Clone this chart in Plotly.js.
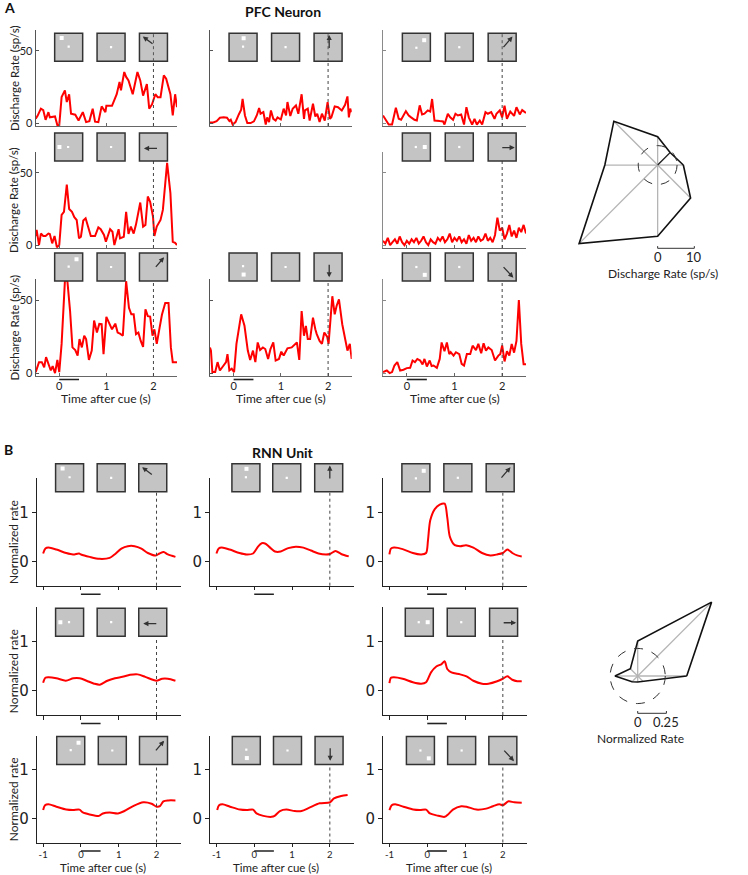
<!DOCTYPE html>
<html>
<head>
<meta charset="utf-8">
<script src="https://cdn.plot.ly/plotly-3.0.1.min.js"></script>
<style>html,body{margin:0;padding:0;background:#fff;}</style>
</head>
<body>
<div id="chart" style="width:748px;height:875px"></div>
<script>
const W = 748, H = 875;

// ---------- data: PFC neuron firing rate (sp/s) vs time after cue (s) ----------
const pfcT_ul = [-0.5,-0.46,-0.39,-0.34,-0.29,-0.23,-0.2,-0.09,-0.04,0.0,0.05,0.12,0.16,0.21,0.25,0.34,0.41,0.5,0.57,0.64,0.71,0.76,0.83,0.9,0.98,1.0,1.12,1.22,1.28,1.31,1.38,1.42,1.47,1.56,1.66,1.72,1.78,1.86,1.91,1.97,2.04,2.09,2.15,2.22,2.27,2.36,2.41,2.46,2.5];
const pfcR_ul = [3,5,10,9,2.3,7.6,4,4.6,-1.5,-1.5,18,22.7,14.6,20,6.5,5.8,1.8,7.6,0.7,1.4,10,1,0.7,11.6,7.6,12,12,20,28.5,22.7,35.4,32,29.6,20,35.4,29.6,19,27,10,13,20,18,18,33,30.8,20,5.3,20,11];

const pfcT_u = [-0.5,-0.43,-0.36,-0.29,-0.21,-0.14,-0.09,-0.06,-0.02,0.04,0.11,0.16,0.19,0.24,0.29,0.36,0.43,0.49,0.54,0.57,0.63,0.68,0.71,0.75,0.79,0.84,0.89,0.93,1.0,1.06,1.11,1.14,1.2,1.25,1.32,1.37,1.44,1.49,1.51,1.57,1.61,1.68,1.73,1.77,1.82,1.87,1.93,1.99,2.04,2.07,2.14,2.21,2.29,2.36,2.41,2.44,2.47,2.5];
const pfcR_u = [0.5,0.5,1.4,3.7,4,3.7,1.4,2.3,-1,0.7,6,9.3,16.7,5.3,0,0,1.2,5.3,10.4,6.5,7.6,-1,4,0.7,8.8,3,1.8,4,2.5,10,5.3,14.6,4.9,10,12.3,6.5,20,3,8.8,10,1.8,13.4,4.6,6.5,0.7,6.5,1.8,14.6,3,4,11.6,11,8.8,12.7,18.5,4,10,7.6];

const pfcT_ur = [-0.5,-0.43,-0.38,-0.31,-0.23,-0.17,-0.12,-0.02,0.04,0.09,0.16,0.21,0.27,0.32,0.37,0.44,0.49,0.53,0.58,0.69,0.76,0.79,0.86,0.91,0.97,1.02,1.07,1.14,1.2,1.25,1.3,1.37,1.42,1.47,1.53,1.58,1.65,1.7,1.77,1.84,1.88,1.95,2.0,2.05,2.1,2.17,2.25,2.3,2.37,2.42,2.5];
const pfcR_ur = [5.3,1.8,-1,-1,10.6,3,2.3,8.3,5.3,4,2.3,1.8,12.3,6,6.5,8.8,8,16.7,1.8,1.4,1.2,-1,6.5,4,2.3,6.5,5.3,6,-1,11,4,-1,3,-1,1.8,-1,7.6,6.5,7.6,3,6.5,8.8,4,12,3,8,5,11,6,9,7];

const pfcT_l = [-0.5,-0.48,-0.43,-0.39,-0.34,-0.29,-0.23,-0.2,-0.15,-0.1,-0.05,0.0,0.05,0.1,0.16,0.21,0.27,0.32,0.37,0.42,0.46,0.51,0.56,0.61,0.67,0.76,0.83,0.88,0.95,0.99,1.08,1.13,1.17,1.26,1.29,1.37,1.42,1.47,1.52,1.58,1.63,1.72,1.78,1.83,1.88,1.93,1.99,2.02,2.07,2.15,2.2,2.29,2.36,2.41,2.46,2.5];
const pfcR_l = [6.3,10.5,0,8,6.3,6.3,8,7.7,1.2,6.3,-1.5,0,21,23,42,25,23,19.3,17.4,4.7,5.8,17,18.6,12.8,6.3,6.3,12.3,11,7,2.3,11,9.3,0,11,4.7,5.8,23,7.7,12.8,8,14.4,29.5,12.8,14,33.7,30,19.8,6.3,12.8,17.4,24.4,57,36,2.3,1.6,0];

const pfcT_r = [-0.5,-0.45,-0.4,-0.35,-0.3,-0.25,-0.2,-0.15,-0.1,-0.05,0,0.05,0.1,0.15,0.2,0.25,0.3,0.35,0.4,0.45,0.5,0.55,0.6,0.65,0.7,0.75,0.8,0.85,0.9,0.95,1.0,1.05,1.1,1.15,1.2,1.25,1.3,1.35,1.4,1.45,1.5,1.55,1.6,1.65,1.7,1.75,1.8,1.85,1.9,1.95,2.0,2.05,2.1,2.15,2.2,2.25,2.3,2.35,2.4,2.45,2.5];
const pfcR_r = [3,1,5,0,2,4,1,6,2,0,3,1,4,2,5,1,3,6,2,0,4,2,1,5,3,6,2,4,8,2,5,3,6,2,4,1,7,3,5,2,6,3,4,8,3,5,2,7,19,10,12,4,8,14,6,10,5,12,9,14,8];

const pfcT_dl = [-0.5,-0.43,-0.37,-0.32,-0.28,-0.23,-0.18,-0.14,-0.09,-0.04,0,0.05,0.12,0.17,0.23,0.28,0.34,0.39,0.43,0.48,0.53,0.57,0.63,0.69,0.74,0.8,0.85,0.9,0.94,1.0,1.07,1.12,1.19,1.24,1.29,1.35,1.42,1.48,1.53,1.58,1.63,1.68,1.73,1.78,1.83,1.88,1.93,1.98,2.02,2.07,2.13,2.18,2.25,2.32,2.37,2.41,2.5];
const pfcR_dl = [0.7,7.5,7.5,4,10.9,6.3,1.8,4.8,0,9,0.7,20,63,64,42.5,17.6,15.8,12,23.3,17.6,25.6,23.3,9,15.4,36,27.8,33.7,33.5,13,38.5,33.5,30,33.9,27.8,27,25.6,63,44.8,40.3,40.3,26.7,27.8,22,18,43.7,39,38.7,25.6,30,20,31,40,48,48,17.6,7.5,7.5];

const pfcT_d = [-0.5,-0.48,-0.45,-0.39,-0.34,-0.29,-0.24,-0.16,-0.13,-0.09,-0.04,0.01,0.06,0.16,0.23,0.3,0.35,0.41,0.46,0.51,0.56,0.62,0.67,0.73,0.78,0.84,0.89,0.96,1.01,1.06,1.14,1.23,1.34,1.39,1.44,1.49,1.53,1.57,1.62,1.68,1.73,1.76,1.82,1.87,1.92,1.98,2.01,2.09,2.14,2.18,2.23,2.3,2.37,2.41,2.46,2.5];
const pfcR_d = [17.6,15.4,0.7,0.7,7.5,1.8,4,7.5,13,1.8,3,0.7,20,40.3,32.4,15.4,9,15.4,7.5,21,15.8,17.6,16.5,9.7,16.5,21,8.6,9.7,14.7,12,17,17.6,21,9,42.5,25.6,32.4,23.3,23.3,38,30,26.7,22,20,27.8,25,20,52.7,40.3,46,50.5,33.5,22,15.4,20,9.7];

const pfcT_dr = [-0.5,-0.42,-0.36,-0.31,-0.26,-0.2,-0.14,-0.07,0,0.07,0.12,0.17,0.22,0.28,0.33,0.37,0.42,0.48,0.52,0.56,0.63,0.69,0.73,0.79,0.84,0.89,0.92,0.98,1.03,1.1,1.15,1.2,1.26,1.33,1.38,1.45,1.5,1.56,1.61,1.66,1.71,1.78,1.85,1.92,1.96,2.0,2.05,2.1,2.15,2.2,2.25,2.3,2.35,2.4,2.45,2.5];
const pfcR_dr = [0.7,1.8,0,0.7,5.2,7.5,1.8,2.3,3.4,3.6,8.6,7.5,9.7,8.6,5.9,9.7,4.5,8.6,4.8,5.2,3.6,9.7,21,15,21,13,14.3,12,14.3,13,6.3,5.2,13,13,18.8,15.8,20,13.6,20.4,15.4,17.6,15.8,8.6,12,13,19,8,15,12,20,14,22,50,20,6,6];

// ---------- data: RNN unit normalized rate vs time after cue (s) ----------
const rnnT_ul = [-1.0,-0.94,-0.86,-0.65,-0.39,-0.21,-0.05,0.0,0.23,0.49,0.76,0.89,1.07,1.24,1.42,1.6,1.77,1.98,2.08,2.19,2.3,2.5];
const rnnR_ul = [0.16,0.26,0.28,0.24,0.17,0.14,0.16,0.14,0.09,0.05,0.07,0.14,0.26,0.31,0.31,0.26,0.17,0.12,0.16,0.19,0.14,0.09];

const rnnT_u = [-1.0,-0.94,-0.86,-0.65,-0.39,-0.2,-0.03,0.1,0.2,0.3,0.42,0.55,0.7,0.9,1.1,1.3,1.5,1.7,1.9,2.0,2.15,2.3,2.5];
const rnnR_u = [0.16,0.26,0.28,0.24,0.17,0.14,0.16,0.3,0.37,0.36,0.28,0.2,0.2,0.27,0.3,0.28,0.22,0.16,0.14,0.15,0.21,0.15,0.1];

const rnnT_ur = [-1.0,-0.96,-0.88,-0.65,-0.38,-0.16,-0.03,0.02,0.08,0.2,0.33,0.46,0.53,0.6,0.73,0.87,1.03,1.22,1.45,1.67,1.85,2.0,2.12,2.25,2.38,2.5];
const rnnR_ur = [0.14,0.26,0.28,0.25,0.17,0.14,0.17,0.43,0.84,1.07,1.16,1.18,0.9,0.5,0.33,0.31,0.33,0.28,0.17,0.12,0.14,0.17,0.24,0.17,0.12,0.1];

const rnnT_l = [-1.0,-0.94,-0.86,-0.65,-0.4,-0.2,-0.03,0.15,0.35,0.5,0.7,0.9,1.1,1.3,1.5,1.7,1.9,2.0,2.15,2.3,2.5];
const rnnR_l = [0.16,0.26,0.27,0.25,0.2,0.25,0.25,0.2,0.14,0.12,0.2,0.25,0.28,0.32,0.33,0.28,0.22,0.2,0.24,0.24,0.2];

const rnnT_r = [-1.0,-0.96,-0.88,-0.65,-0.38,-0.16,-0.03,0.1,0.24,0.38,0.46,0.53,0.64,0.87,1.04,1.22,1.45,1.62,1.85,2.0,2.12,2.25,2.38,2.5];
const rnnR_r = [0.15,0.26,0.27,0.24,0.17,0.14,0.17,0.37,0.49,0.54,0.6,0.44,0.37,0.33,0.29,0.2,0.14,0.14,0.19,0.24,0.29,0.22,0.19,0.19];

const rnnT_dl = [-1.0,-0.95,-0.86,-0.65,-0.39,-0.21,-0.04,0.05,0.23,0.48,0.58,0.76,0.98,1.15,1.38,1.65,1.87,2.0,2.09,2.18,2.31,2.5];
const rnnR_dl = [0.17,0.27,0.29,0.24,0.18,0.17,0.18,0.12,0.08,0.05,0.1,0.12,0.1,0.15,0.25,0.33,0.3,0.24,0.25,0.35,0.37,0.37];

const rnnT_d = [-0.98,-0.93,-0.84,-0.64,-0.38,-0.2,-0.03,0.06,0.24,0.46,0.54,0.68,0.85,1.07,1.25,1.46,1.73,2.0,2.11,2.3,2.47];
const rnnR_d = [0.17,0.27,0.29,0.24,0.18,0.17,0.18,0.1,0.05,0.03,0.05,0.15,0.18,0.15,0.15,0.22,0.31,0.33,0.41,0.46,0.48];

const rnnT_dr = [-1.0,-0.94,-0.85,-0.63,-0.37,-0.19,-0.03,0.07,0.25,0.46,0.55,0.68,0.9,1.04,1.3,1.56,1.74,1.91,2.0,2.15,2.3,2.5];
const rnnR_dr = [0.17,0.27,0.29,0.24,0.18,0.17,0.18,0.1,0.06,0.03,0.08,0.18,0.25,0.24,0.18,0.2,0.25,0.29,0.27,0.35,0.33,0.32];

// ---------- data: tuning (mean rate per saccade direction) ----------
const DIRS_DEG = [0, 45, 90, 135, 180, 225, 270, 315];
const PFC_TUNING = [7.0, 4.8, 7.7, 16.9, 14.4, 30.3, 19.4, 12.7];
const PFC_BASELINE = 5.3;
const RNN_TUNING = [0.427, 0.91, 0.305, 0.09, 0.198, 0.07, 0.052, 0.066];
const RNN_BASELINE = 0.24;

// ---------- layout geometry (px) ----------
const ICON = 28;
const A_COLS = [[35.7, 177], [210, 351.7], [383, 526]];
const A_ROWS = [[30, 126], [152, 248], [279, 376]];
const A_ICON_Y = [47.2, 147, 267];
const B_COLS = [[36.7, 181.1], [210, 354.4], [383, 527.4]];
const B_ROWS = [[478.3, 585.7], [607.3, 715], [736, 842.5]];
const B_ICON_Y = [477.8, 622.2, 750.5];

// icon glyphs per grid position: cue square, fixation dot, arrow [tailx, taily, headx, heady]
const GLYPHS = {
  '0,0': {cue: [0.25, 0.17], fix: [0.5, 0.48], arrow: [0.52, 0.42, 0.12, 0.12]},
  '0,1': {cue: [0.52, 0.18], fix: [0.5, 0.48], arrow: [0.54, 0.58, 0.54, 0.06]},
  '0,2': {cue: [0.78, 0.25], fix: [0.5, 0.52], arrow: [0.5, 0.55, 0.87, 0.12]},
  '1,0': {cue: [0.17, 0.5], fix: [0.48, 0.5], arrow: [0.68, 0.55, 0.16, 0.55]},
  '1,2': {cue: [0.8, 0.5], fix: [0.48, 0.5], arrow: [0.45, 0.52, 0.95, 0.52]},
  '2,0': {cue: [0.78, 0.22], fix: [0.5, 0.49], arrow: [0.54, 0.55, 0.88, 0.15]},
  '2,1': {cue: [0.52, 0.77], fix: [0.5, 0.47], arrow: [0.54, 0.37, 0.54, 0.87]},
  '2,2': {cue: [0.8, 0.78], fix: [0.5, 0.5], arrow: [0.5, 0.45, 0.9, 0.88]},
};

const PFC_PANELS = [
  {r: 0, c: 0, t: pfcT_ul, v: pfcR_ul}, {r: 0, c: 1, t: pfcT_u, v: pfcR_u}, {r: 0, c: 2, t: pfcT_ur, v: pfcR_ur},
  {r: 1, c: 0, t: pfcT_l, v: pfcR_l}, {r: 1, c: 2, t: pfcT_r, v: pfcR_r},
  {r: 2, c: 0, t: pfcT_dl, v: pfcR_dl}, {r: 2, c: 1, t: pfcT_d, v: pfcR_d}, {r: 2, c: 2, t: pfcT_dr, v: pfcR_dr},
];
const RNN_PANELS = [
  {r: 0, c: 0, t: rnnT_ul, v: rnnR_ul, icons: [-0.3, 0.8, 1.9]},
  {r: 0, c: 1, t: rnnT_u, v: rnnR_u, icons: [-0.22, 0.86, 1.97]},
  {r: 0, c: 2, t: rnnT_ur, v: rnnR_ur, icons: [-0.3, 0.81, 1.93]},
  {r: 1, c: 0, t: rnnT_l, v: rnnR_l, icons: [-0.3, 0.8, 1.9]},
  {r: 1, c: 2, t: rnnT_r, v: rnnR_r, icons: [-0.21, 0.9, 2.02]},
  {r: 2, c: 0, t: rnnT_dl, v: rnnR_dl, icons: [-0.27, 0.83, 1.92]},
  {r: 2, c: 1, t: rnnT_d, v: rnnR_d, icons: [-0.21, 0.88, 1.98]},
  {r: 2, c: 2, t: rnnT_dr, v: rnnR_dr, icons: [-0.18, 0.91, 2.0]},
];

const FONT = 'Lato, "Open Sans", sans-serif';
const traces = [];
const shapes = [];
const annotations = [];
const layout = {
  width: W, height: H,
  margin: {l: 0, r: 0, t: 0, b: 0},
  showlegend: false,
  paper_bgcolor: '#fff',
  plot_bgcolor: 'rgba(0,0,0,0)',
  font: {family: FONT, color: '#222', size: 11},
  shapes: shapes,
  annotations: annotations,
};

const py = y => 1 - y / H;
const axKeys = n => n === 1 ? ['x', 'y', 'xaxis', 'yaxis'] : ['x' + n, 'y' + n, 'xaxis' + n, 'yaxis' + n];

function text(s, x, y, opts) {
  annotations.push(Object.assign({
    text: s, xref: 'paper', yref: 'paper', x: x / W, y: py(y),
    showarrow: false, xanchor: 'center', yanchor: 'middle',
    font: {family: FONT, size: 12, color: '#222'},
  }, opts || {}));
}

function drawIcons(xa, centers, iconY, glyph, lineTop) {
  const yc = py(iconY);
  const half = ICON / 2;
  // dotted line at saccade go time
  shapes.push({
    type: 'line', xref: xa, yref: 'paper', x0: 2, x1: 2,
    y0: lineTop.bottom, y1: lineTop.top,
    line: {color: '#444', width: 1, dash: 'dot'},
  });
  centers.forEach(cx => {
    shapes.push({
      type: 'rect', xref: xa, yref: 'paper',
      xsizemode: 'pixel', ysizemode: 'pixel', xanchor: cx, yanchor: yc,
      x0: -half, x1: half, y0: -half, y1: half,
      fillcolor: '#c4c4c4', line: {color: '#333', width: 1.5},
    });
  });
  if (lineTop.through) {
    shapes.push({
      type: 'line', xref: xa, yref: 'paper', x0: 2, x1: 2,
      y0: py(iconY + half), y1: py(iconY - half),
      line: {color: '#555', width: 1, dash: 'dot'},
    });
  }
  const dot = (cx, f, size) => {
    const dx = (f[0] - 0.5) * ICON, dy = -(f[1] - 0.5) * ICON;
    shapes.push({
      type: 'rect', xref: xa, yref: 'paper',
      xsizemode: 'pixel', ysizemode: 'pixel', xanchor: cx, yanchor: yc,
      x0: dx - size / 2, x1: dx + size / 2, y0: dy - size / 2, y1: dy + size / 2,
      fillcolor: '#fff', line: {width: 0},
    });
  };
  dot(centers[0], glyph.cue, 4);
  dot(centers[0], glyph.fix, 2.2);
  dot(centers[1], [0.5, 0.5], 2.2);
  const a = glyph.arrow;
  annotations.push({
    text: '', xref: xa, yref: 'paper', x: centers[2], y: yc,
    xshift: (a[2] - 0.5) * ICON, yshift: -(a[3] - 0.5) * ICON,
    axref: 'pixel', ayref: 'pixel',
    ax: (a[0] - a[2]) * ICON, ay: (a[1] - a[3]) * ICON,
    showarrow: true, arrowhead: 2, arrowsize: 0.8, arrowwidth: 1.3,
    arrowcolor: '#333', standoff: 0,
  });
}

let n = 1;

// ---------- panel A: PFC neuron ----------
PFC_PANELS.forEach(p => {
  const [xa, ya, xk, yk] = axKeys(n++);
  const cx = A_COLS[p.c], ry = A_ROWS[p.r];
  const axColor = p.c === 2 ? '#8a8a8a' : '#555';
  layout[xk] = {
    domain: [cx[0] / W, cx[1] / W], anchor: ya, range: [-0.5, 2.5],
    showline: true, linecolor: '#666', linewidth: 1,
    ticks: 'inside', ticklen: 3, tickcolor: '#666', tickvals: [0, 1, 2],
    showticklabels: p.r === 2, tickfont: {size: 11, family: FONT, color: '#222'},
    showgrid: false, zeroline: false, fixedrange: true,
  };
  layout[yk] = {
    domain: [py(ry[1]), py(ry[0])], anchor: xa, range: [-2, 64.5],
    showline: true, linecolor: axColor, linewidth: 1,
    ticks: 'inside', ticklen: 3, tickcolor: axColor, tickvals: [0, 50],
    showticklabels: p.c === 0, tickfont: {size: 11, family: FONT, color: '#222'},
    showgrid: false, zeroline: false, fixedrange: true,
  };
  traces.push({
    x: p.t, y: p.v, xaxis: xa, yaxis: ya, type: 'scatter', mode: 'lines',
    line: {color: '#ff0000', width: 2}, hoverinfo: 'skip',
  });
  const iconY = A_ICON_Y[p.r];
  drawIcons(xa, [0.2, 1.1, 2.0], iconY, GLYPHS[p.r + ',' + p.c], {
    bottom: py(ry[1]), top: py(iconY + ICON / 2), through: p.r === 0,
  });
  if (p.r === 2) {
    shapes.push({type: 'line', xref: xa, yref: 'paper', x0: 0, x1: 0.42,
      y0: py(ry[1] + 3.5), y1: py(ry[1] + 3.5), line: {color: '#222', width: 1.6}});
    text('Time after cue (s)', (cx[0] + cx[1]) / 2, 398, {font: {family: FONT, size: 12, color: '#222'}});
  }
  if (p.c === 0) {
    text('Discharge Rate (sp/s)', 14, (ry[0] + ry[1]) / 2, {textangle: -90, font: {family: FONT, size: 11.5, color: '#222'}});
  }
});

// ---------- panel B: RNN unit ----------
RNN_PANELS.forEach(p => {
  const [xa, ya, xk, yk] = axKeys(n++);
  const cx = B_COLS[p.c], ry = B_ROWS[p.r];
  layout[xk] = {
    domain: [cx[0] / W, cx[1] / W], anchor: ya, range: [-1.17, 2.65],
    showline: true, linecolor: '#222', linewidth: 1,
    ticks: 'outside', ticklen: 3.5, tickcolor: '#222',
    tickvals: [-1, 0, 1, 2], ticktext: ['-1', '0', '1', '2'],
    showticklabels: p.r === 2, tickfont: {size: 9.5, family: FONT, color: '#222'},
    ticklabelstandoff: 0,
    showgrid: false, zeroline: false, fixedrange: true,
  };
  layout[yk] = {
    domain: [py(ry[1]), py(ry[0])], anchor: xa, range: [-0.5, 1.7],
    showline: true, linecolor: '#222', linewidth: 1,
    ticks: 'outside', ticklen: 4, tickcolor: '#222', tickvals: [0, 1],
    tickfont: {size: 15, family: 'DejaVu Sans, sans-serif', color: '#222'},
    showgrid: false, zeroline: false, fixedrange: true,
  };
  traces.push({
    x: p.t, y: p.v, xaxis: xa, yaxis: ya, type: 'scatter', mode: 'lines',
    line: {color: '#ff0000', width: 2, shape: 'spline', smoothing: 0.8}, hoverinfo: 'skip',
  });
  const iconY = B_ICON_Y[p.r];
  drawIcons(xa, p.icons, iconY, GLYPHS[p.r + ',' + p.c], {
    bottom: py(ry[1]), top: py(iconY + ICON / 2), through: false,
  });
  shapes.push({type: 'line', xref: xa, yref: 'paper', x0: 0, x1: 0.52,
    y0: py(ry[1] + 8.5), y1: py(ry[1] + 8.5), line: {color: '#222', width: 1.6}});
  if (p.r === 2) {
    text('Time after cue (s)', (cx[0] + cx[1]) / 2 - 6, 875,
      {yanchor: 'bottom', borderpad: 0, font: {family: FONT, size: 11.5, color: '#222'}});
  }
  if (p.c === 0) {
    text('Normalized rate', 13, (ry[0] + ry[1]) / 2 + 10, {textangle: -90, font: {family: FONT, size: 12, color: '#222'}});
  }
});

// ---------- tuning polygons ----------
function polar(radii, baseline, ranges, boxPx, opts) {
  const [xa, ya, xk, yk] = axKeys(n++);
  layout[xk] = {domain: [boxPx[0] / W, boxPx[1] / W], anchor: ya, range: ranges[0], visible: false, fixedrange: true};
  layout[yk] = {domain: [py(boxPx[3]), py(boxPx[2])], anchor: xa, range: ranges[1], visible: false, fixedrange: true};
  const vx = radii.map((r, i) => r * Math.cos(DIRS_DEG[i] * Math.PI / 180));
  const vy = radii.map((r, i) => r * Math.sin(DIRS_DEG[i] * Math.PI / 180));
  const sx = [], sy = [];
  vx.forEach((x, i) => { sx.push(0, x, null); sy.push(0, vy[i], null); });
  traces.push({x: sx, y: sy, xaxis: xa, yaxis: ya, mode: 'lines', type: 'scatter',
    line: {color: '#b4b4b4', width: 1.3}, hoverinfo: 'skip'});
  if (opts.darkSpoke !== undefined) {
    const i = opts.darkSpoke;
    traces.push({x: [0, vx[i]], y: [0, vy[i]], xaxis: xa, yaxis: ya, mode: 'lines', type: 'scatter',
      line: {color: '#222', width: 1.2}, hoverinfo: 'skip'});
  }
  traces.push({x: vx.concat([vx[0]]), y: vy.concat([vy[0]]), xaxis: xa, yaxis: ya, mode: 'lines', type: 'scatter',
    line: {color: '#111', width: 1.6}, hoverinfo: 'skip'});
  shapes.push({type: 'circle', xref: xa, yref: ya, x0: -baseline, x1: baseline, y0: -baseline, y1: baseline,
    line: {color: '#333', width: 1, dash: 'dash'}});
  // scale bar
  const sb = opts.scale, yb = opts.barY, tk = opts.tickLen;
  shapes.push({type: 'line', xref: xa, yref: ya, x0: 0, x1: sb, y0: yb, y1: yb, line: {color: '#333', width: 1}});
  shapes.push({type: 'line', xref: xa, yref: ya, x0: 0, x1: 0, y0: yb, y1: yb + tk, line: {color: '#333', width: 1}});
  shapes.push({type: 'line', xref: xa, yref: ya, x0: sb, x1: sb, y0: yb, y1: yb + tk, line: {color: '#333', width: 1}});
  annotations.push({text: '0', xref: xa, yref: ya, x: 0, y: yb, yshift: -9, showarrow: false,
    font: {family: FONT, size: 13, color: '#222'}});
  annotations.push({text: String(sb), xref: xa, yref: ya, x: sb, y: yb, yshift: -9, showarrow: false,
    font: {family: FONT, size: 13, color: '#222'}});
  annotations.push({text: opts.label, xref: xa, yref: ya, x: opts.labelX, y: yb, yshift: -25, showarrow: false,
    font: {family: FONT, size: 12, color: '#222'}});
}

polar(PFC_TUNING, PFC_BASELINE, [[-23.9, 17.0], [-32.7, 15.0]], [570, 720, 110, 285],
  {scale: 10, barY: -22.7, tickLen: 0.6, label: 'Discharge Rate (sp/s)', labelX: 1.5, darkSpoke: 1});
polar(RNN_TUNING, RNN_BASELINE, [[-0.4155, 0.891], [-0.601, 0.7056]], [590, 740, 595, 745],
  {scale: 0.25, barY: -0.325, tickLen: 0.02, label: 'Normalized Rate', labelX: 0.025});

// ---------- panel letters and titles ----------
text('<b>A</b>', 2, 8, {xanchor: 'left', font: {family: FONT, size: 14, color: '#111'}});
text('<b>PFC Neuron</b>', 282.5, 12, {font: {family: FONT, size: 14, color: '#111'}});
text('<b>B</b>', 2, 450, {xanchor: 'left', font: {family: FONT, size: 14, color: '#111'}});
text('<b>RNN Unit</b>', 283, 452, {font: {family: FONT, size: 14, color: '#111'}});

Plotly.newPlot('chart', traces, layout, {staticPlot: true, displayModeBar: false});
</script>
</body>
</html>
